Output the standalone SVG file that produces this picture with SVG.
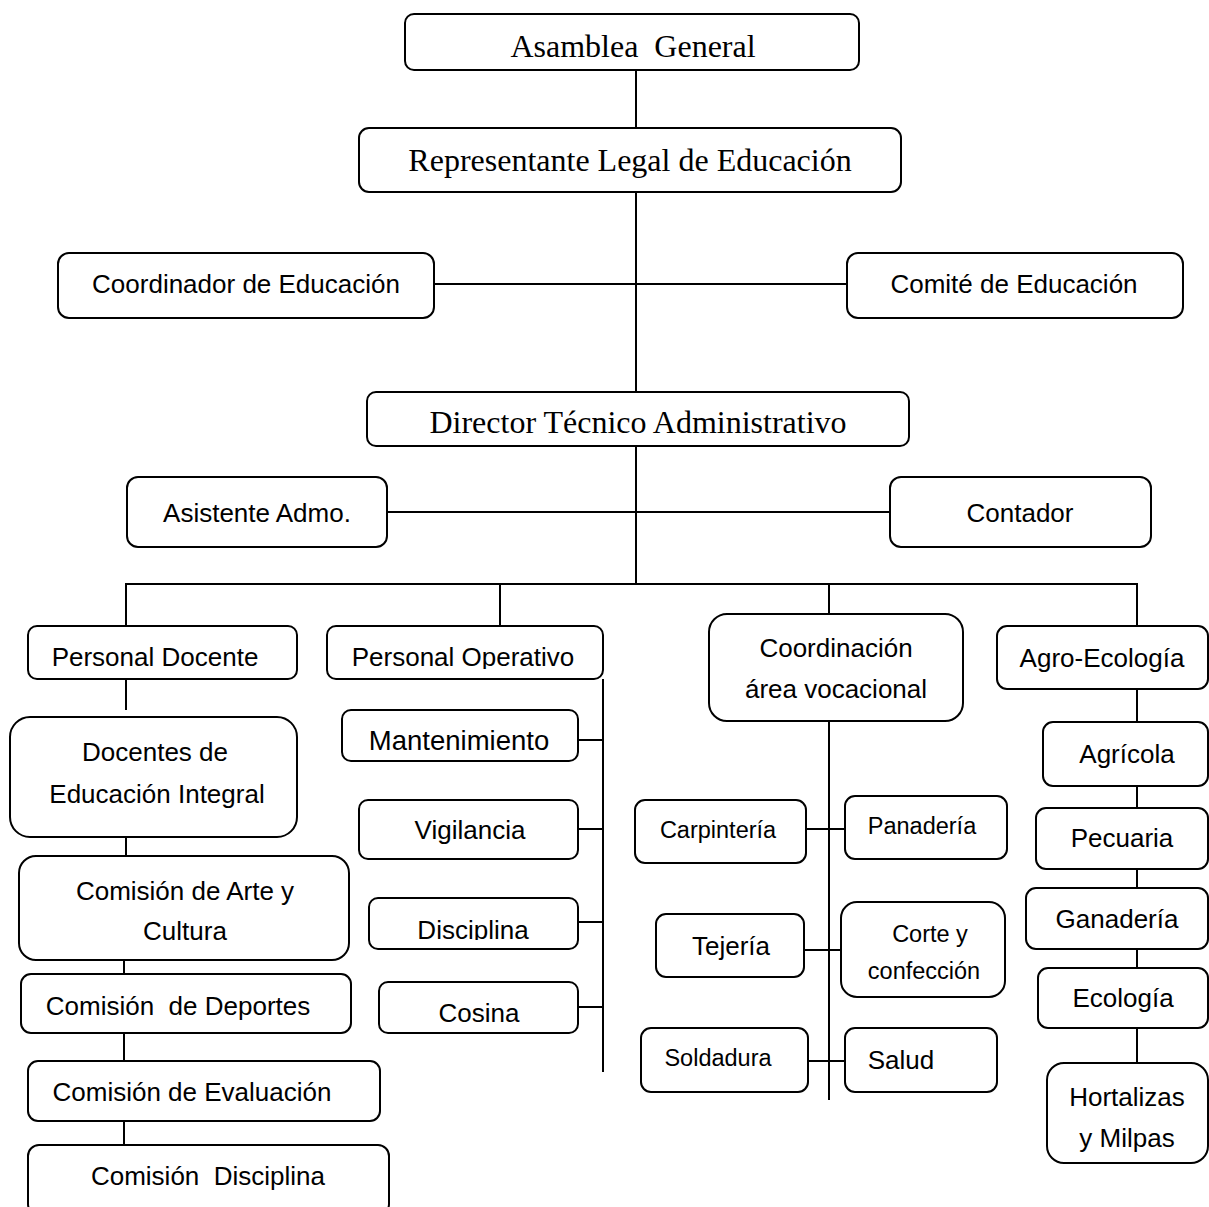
<svg xmlns="http://www.w3.org/2000/svg" width="1209" height="1207" viewBox="0 0 1209 1207">
<style>
.b{fill:#fff;stroke:#000;stroke-width:2}
.s{font-family:"Liberation Serif","Times New Roman",serif;font-size:32px;fill:#000;text-anchor:middle}
.t{font-family:"Liberation Sans",Arial,sans-serif;font-size:26px;fill:#000;text-anchor:middle}
.m{font-family:"Liberation Sans",Arial,sans-serif;font-size:23.5px;fill:#000;text-anchor:middle}
.c line{stroke:#000;stroke-width:2}
</style>
<defs>
<clipPath id="cpo"><rect x="327" y="626" width="276" height="43"/></clipPath>
<clipPath id="cdi"><rect x="369" y="898" width="209" height="42"/></clipPath>
</defs>
<rect width="1209" height="1207" fill="#fff"/>
<g class="c" id="connectors">
<line x1="636" y1="70" x2="636" y2="392"/>
<line x1="434" y1="284" x2="847" y2="284"/>
<line x1="636" y1="446" x2="636" y2="584"/>
<line x1="387" y1="512" x2="890" y2="512"/>
<line x1="125" y1="584" x2="1138" y2="584"/>
<line x1="126" y1="584" x2="126" y2="626"/>
<line x1="500" y1="584" x2="500" y2="626"/>
<line x1="829" y1="584" x2="829" y2="614"/>
<line x1="1137" y1="584" x2="1137" y2="626"/>
<line x1="126" y1="679" x2="126" y2="710"/>
<line x1="126" y1="837" x2="126" y2="860"/>
<line x1="124" y1="958" x2="124" y2="974"/>
<line x1="124" y1="1033" x2="124" y2="1061"/>
<line x1="124" y1="1121" x2="124" y2="1145"/>
<line x1="603" y1="679" x2="603" y2="1072"/>
<line x1="578" y1="740" x2="603" y2="740"/>
<line x1="578" y1="829" x2="603" y2="829"/>
<line x1="578" y1="922" x2="603" y2="922"/>
<line x1="578" y1="1007" x2="603" y2="1007"/>
<line x1="829" y1="721" x2="829" y2="1100"/>
<line x1="806" y1="829" x2="845" y2="829"/>
<line x1="804" y1="950" x2="841" y2="950"/>
<line x1="808" y1="1061" x2="845" y2="1061"/>
<line x1="1137" y1="689" x2="1137" y2="722"/>
<line x1="1137" y1="786" x2="1137" y2="808"/>
<line x1="1137" y1="869" x2="1137" y2="888"/>
<line x1="1137" y1="949" x2="1137" y2="968"/>
<line x1="1137" y1="1028" x2="1137" y2="1063"/>
</g>
<g id="asamblea"><rect class="b" x="405" y="14" width="454" height="56" rx="9"/><text class="s" x="633" y="57" xml:space="preserve">Asamblea  General</text></g>
<g id="representante"><rect class="b" x="359" y="128" width="542" height="64" rx="10"/><text class="s" x="630" y="171">Representante Legal de Educación</text></g>
<g id="coordinador"><rect class="b" x="58" y="253" width="376" height="65" rx="11"/><text class="t" x="246" y="293">Coordinador de Educación</text></g>
<g id="comite"><rect class="b" x="847" y="253" width="336" height="65" rx="11"/><text class="t" x="1014" y="293">Comité de Educación</text></g>
<g id="director"><rect class="b" x="367" y="392" width="542" height="54" rx="9"/><text class="s" x="638" y="433">Director Técnico Administrativo</text></g>
<g id="asistente"><rect class="b" x="127" y="477" width="260" height="70" rx="11"/><text class="t" x="257" y="522">Asistente Admo.</text></g>
<g id="contador"><rect class="b" x="890" y="477" width="261" height="70" rx="11"/><text class="t" x="1020" y="522">Contador</text></g>
<g id="personal-docente"><rect class="b" x="28" y="626" width="269" height="53" rx="9"/><text class="t" x="155" y="666">Personal Docente</text></g>
<g id="personal-operativo"><rect class="b" x="327" y="626" width="276" height="53" rx="9"/><text class="t" x="463" y="666" clip-path="url(#cpo)">Personal Operativo</text></g>
<g id="coordinacion"><rect class="b" x="709" y="614" width="254" height="107" rx="18"/><text class="t" x="836" y="657">Coordinación</text><text class="t" x="836" y="698">área vocacional</text></g>
<g id="agroecologia"><rect class="b" x="997" y="626" width="211" height="63" rx="10"/><text class="t" x="1102" y="667">Agro-Ecología</text></g>
<g id="docentes"><rect class="b" x="10" y="717" width="287" height="120" rx="20"/><text class="t" x="155" y="761">Docentes de</text><text class="t" x="157" y="803">Educación Integral</text></g>
<g id="arte"><rect class="b" x="19" y="856" width="330" height="104" rx="17"/><text class="t" x="185" y="900">Comisión de Arte y</text><text class="t" x="185" y="940">Cultura</text></g>
<g id="deportes"><rect class="b" x="21" y="974" width="330" height="59" rx="10"/><text class="t" x="178" y="1015" xml:space="preserve">Comisión  de Deportes</text></g>
<g id="evaluacion"><rect class="b" x="28" y="1061" width="352" height="60" rx="10"/><text class="t" x="192" y="1101">Comisión de Evaluación</text></g>
<g id="comision-disciplina"><rect class="b" x="28" y="1145" width="361" height="70" rx="11"/><text class="t" x="208" y="1185" xml:space="preserve">Comisión  Disciplina</text></g>
<g id="mantenimiento"><rect class="b" x="342" y="710" width="236" height="51" rx="9"/><text class="t" x="459" y="750" style="font-size:27.5px">Mantenimiento</text></g>
<g id="vigilancia"><rect class="b" x="359" y="800" width="219" height="59" rx="9"/><text class="t" x="470" y="839">Vigilancia</text></g>
<g id="disciplina"><rect class="b" x="369" y="898" width="209" height="51" rx="9"/><text class="t" x="473" y="939" clip-path="url(#cdi)">Disciplina</text></g>
<g id="cosina"><rect class="b" x="379" y="982" width="199" height="51" rx="9"/><text class="t" x="479" y="1022">Cosina</text></g>
<g id="carpinteria"><rect class="b" x="635" y="800" width="171" height="63" rx="10"/><text class="m" x="718" y="838">Carpintería</text></g>
<g id="panaderia"><rect class="b" x="845" y="796" width="162" height="63" rx="10"/><text class="m" x="922" y="834">Panadería</text></g>
<g id="tejeria"><rect class="b" x="656" y="914" width="148" height="63" rx="10"/><text class="t" x="731" y="955">Tejería</text></g>
<g id="corte"><rect class="b" x="841" y="902" width="164" height="95" rx="16"/><text class="m" x="930" y="942">Corte y</text><text class="m" x="924" y="979">confección</text></g>
<g id="soldadura"><rect class="b" x="641" y="1028" width="167" height="64" rx="10"/><text class="m" x="718" y="1066">Soldadura</text></g>
<g id="salud"><rect class="b" x="845" y="1028" width="152" height="64" rx="10"/><text class="t" x="901" y="1069">Salud</text></g>
<g id="agricola"><rect class="b" x="1043" y="722" width="165" height="64" rx="10"/><text class="t" x="1127" y="763">Agrícola</text></g>
<g id="pecuaria"><rect class="b" x="1036" y="808" width="172" height="61" rx="10"/><text class="t" x="1122" y="847">Pecuaria</text></g>
<g id="ganaderia"><rect class="b" x="1026" y="888" width="182" height="61" rx="10"/><text class="t" x="1117" y="928">Ganadería</text></g>
<g id="ecologia"><rect class="b" x="1038" y="968" width="170" height="60" rx="10"/><text class="t" x="1123" y="1007">Ecología</text></g>
<g id="hortalizas"><rect class="b" x="1047" y="1063" width="161" height="100" rx="17"/><text class="t" x="1127" y="1106">Hortalizas</text><text class="t" x="1127" y="1147">y Milpas</text></g>
</svg>
